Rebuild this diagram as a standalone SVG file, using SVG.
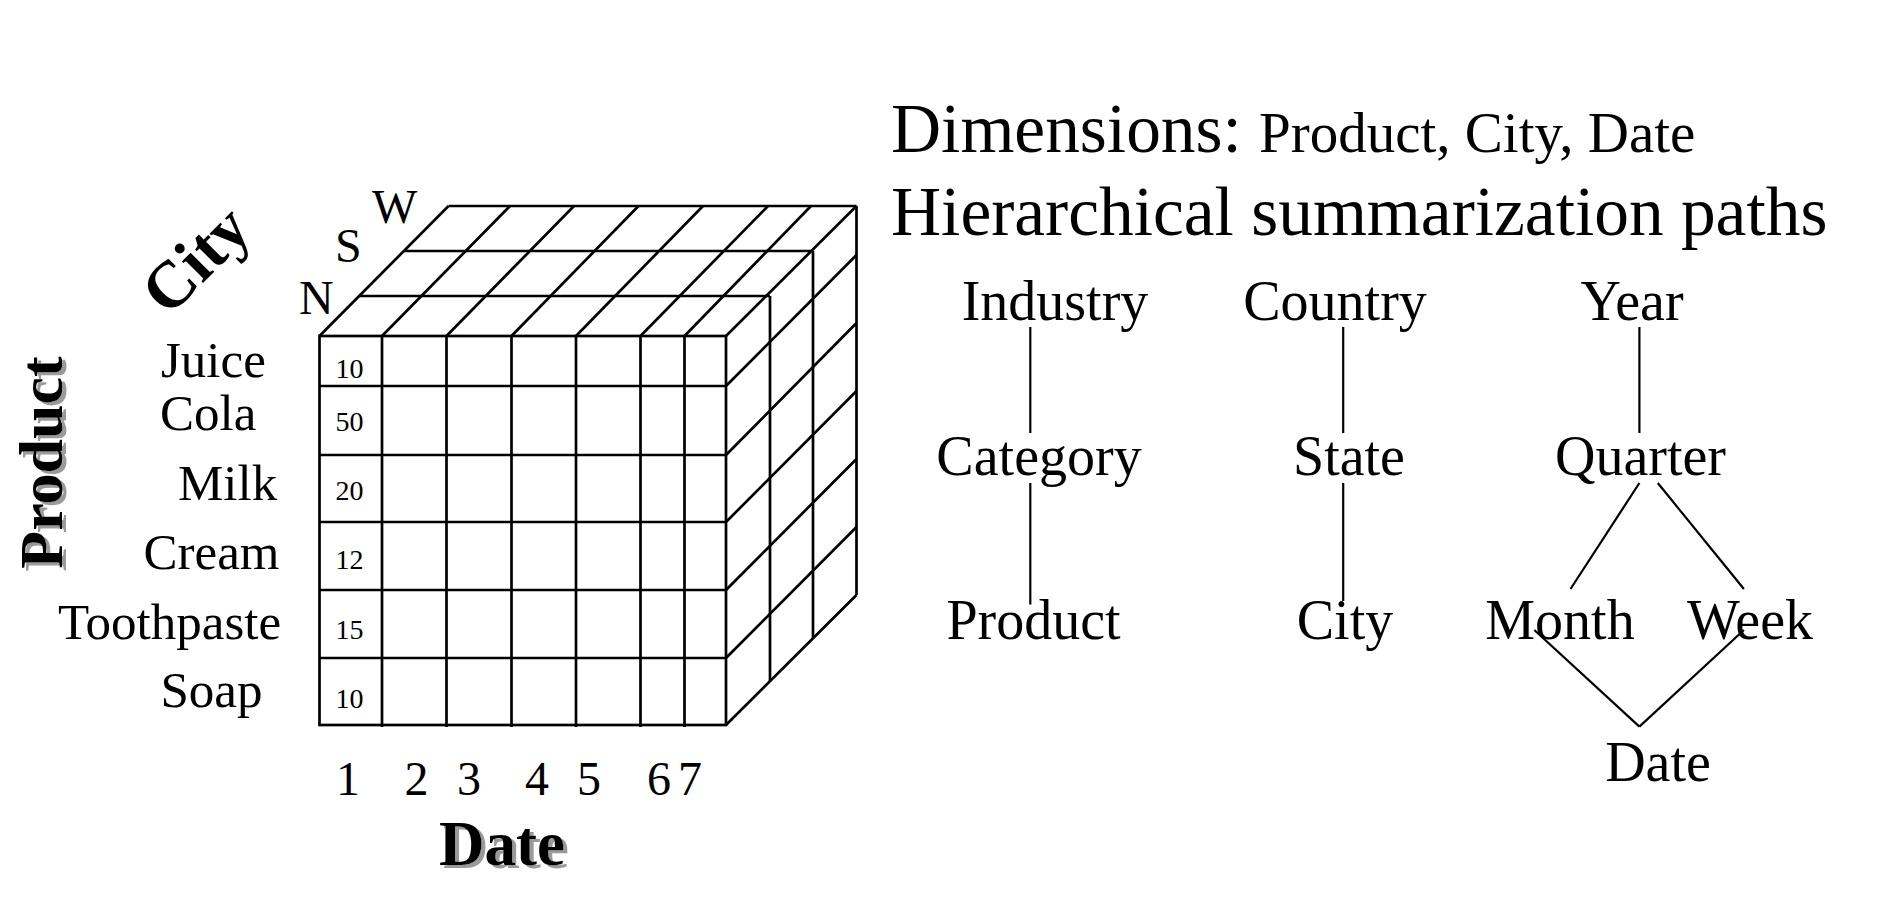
<svg xmlns="http://www.w3.org/2000/svg" width="1878" height="900" viewBox="0 0 1878 900">
<defs>
<filter id="sh" x="-20%" y="-20%" width="140%" height="140%">
<feDropShadow dx="4" dy="3" stdDeviation="0.3" flood-color="#9a9a9a" flood-opacity="1"/>
</filter>
<style>
text{font-family:"Liberation Serif","Times New Roman",serif;fill:#000}
.lbl{font-size:51px}
.num{font-size:28px}
.day{font-size:48px;text-anchor:middle}
.dir{font-size:48px}
.axis{font-size:62px;font-weight:bold}
.head{font-size:69.4px}
.sub{font-size:57px}
.tn{font-size:56px;text-anchor:middle}
.cube line,.cube rect{stroke:#000;stroke-width:2.7;fill:none}
.conn line{stroke:#000;stroke-width:2.2}
</style>
</defs>
<rect width="1878" height="900" fill="#fff"/>

<!-- cube -->
<g id="cube" class="cube">
<!-- front face -->
<rect x="319.5" y="336" width="406.5" height="389"/>
<line x1="382" y1="336" x2="382" y2="727"/>
<line x1="446.5" y1="336" x2="446.5" y2="727"/>
<line x1="511.5" y1="336" x2="511.5" y2="727"/>
<line x1="576" y1="336" x2="576" y2="727"/>
<line x1="640.5" y1="336" x2="640.5" y2="727"/>
<line x1="684.5" y1="336" x2="684.5" y2="727"/>
<line x1="319.5" y1="386" x2="726" y2="386"/>
<line x1="319.5" y1="455" x2="726" y2="455"/>
<line x1="319.5" y1="522" x2="726" y2="522"/>
<line x1="319.5" y1="590" x2="726" y2="590"/>
<line x1="319.5" y1="658" x2="726" y2="658"/>
<!-- top face -->
<line x1="358.5" y1="296" x2="770" y2="296"/>
<line x1="404" y1="251" x2="813" y2="251"/>
<line x1="448.5" y1="206" x2="856.5" y2="206"/>
<line x1="319.5" y1="336" x2="448.5" y2="206"/>
<line x1="382" y1="336" x2="510" y2="206"/>
<line x1="446.5" y1="336" x2="574" y2="206"/>
<line x1="511.5" y1="336" x2="638.5" y2="206"/>
<line x1="576" y1="336" x2="703" y2="206"/>
<line x1="640.5" y1="336" x2="768" y2="206"/>
<line x1="684.5" y1="336" x2="811" y2="206"/>
<line x1="726" y1="336" x2="856.5" y2="206"/>
<!-- right face -->
<line x1="770" y1="296" x2="770" y2="681"/>
<line x1="813" y1="251" x2="813" y2="638"/>
<line x1="856.5" y1="206" x2="856.5" y2="595"/>
<line x1="726" y1="386" x2="856.5" y2="255"/>
<line x1="726" y1="455" x2="856.5" y2="323"/>
<line x1="726" y1="522" x2="856.5" y2="391"/>
<line x1="726" y1="590" x2="856.5" y2="459"/>
<line x1="726" y1="658" x2="856.5" y2="527"/>
<line x1="726" y1="725" x2="856.5" y2="595"/>
</g>

<!-- cell values -->
<g id="cells">
<text class="num" x="335.5" y="378">10</text>
<text class="num" x="335.5" y="431">50</text>
<text class="num" x="335.5" y="500">20</text>
<text class="num" x="335.5" y="569">12</text>
<text class="num" x="335.5" y="639">15</text>
<text class="num" x="335.5" y="708">10</text>
</g>

<!-- product labels -->
<g id="product-labels">
<text class="lbl" x="161" y="377">Juice</text>
<text class="lbl" x="160" y="430">Cola</text>
<text class="lbl" x="178" y="500">Milk</text>
<text class="lbl" x="143.5" y="569">Cream</text>
<text class="lbl" x="58" y="639">Toothpaste</text>
<text class="lbl" x="160.5" y="707">Soap</text>
</g>

<!-- date labels -->
<g id="date-labels">
<text class="day" x="348" y="795">1</text>
<text class="day" x="416.5" y="795">2</text>
<text class="day" x="469" y="795">3</text>
<text class="day" x="537" y="795">4</text>
<text class="day" x="589" y="795">5</text>
<text class="day" x="659" y="795">6</text>
<text class="day" x="690" y="795">7</text>
</g>

<!-- city labels -->
<g id="city-labels">
<text class="dir" x="299" y="314">N</text>
<text class="dir" x="335" y="262">S</text>
<text class="dir" x="372" y="223">W</text>
</g>

<!-- axis titles -->
<g id="axis-product" filter="url(#sh)">
<text class="axis" transform="translate(61.7,462.5) rotate(-90)" text-anchor="middle">Product</text>
</g>
<g id="axis-city">
<text class="axis" style="font-size:66px" transform="translate(211,275) rotate(-45)" text-anchor="middle">City</text>
</g>
<g id="axis-date" filter="url(#sh)">
<text class="axis" style="font-size:63px" x="439" y="865">Date</text>
</g>

<!-- headings -->
<g id="heading">
<text class="head" x="891" y="152">Dimensions:</text>
<text class="sub" x="1259" y="152">Product, City, Date</text>
<text class="head" x="891" y="235">Hierarchical summarization paths</text>
</g>

<!-- connectors -->
<g id="connectors" class="conn">
<line x1="1030.3" y1="327" x2="1030.3" y2="433"/>
<line x1="1030.3" y1="483" x2="1030.3" y2="604.5"/>
<line x1="1343.2" y1="327" x2="1343.2" y2="433"/>
<line x1="1343.2" y1="483" x2="1343.2" y2="601"/>
<line x1="1639.4" y1="327" x2="1639.4" y2="433"/>
<line x1="1639.4" y1="483" x2="1570.5" y2="589"/>
<line x1="1657.8" y1="483" x2="1743.9" y2="589"/>
<line x1="1534.3" y1="630" x2="1639.4" y2="726.6"/>
<line x1="1743.9" y1="630" x2="1639.4" y2="726.6"/>
</g>

<!-- hierarchy nodes -->
<g id="node-industry"><text class="tn" x="1055" y="320">Industry</text></g>
<g id="node-category"><text class="tn" x="1039" y="475">Category</text></g>
<g id="node-product"><text class="tn" x="1033.5" y="639">Product</text></g>
<g id="node-country"><text class="tn" x="1335" y="320">Country</text></g>
<g id="node-state"><text class="tn" x="1349" y="475">State</text></g>
<g id="node-city"><text class="tn" x="1345" y="639">City</text></g>
<g id="node-year"><text class="tn" x="1632" y="320">Year</text></g>
<g id="node-quarter"><text class="tn" x="1640.5" y="475">Quarter</text></g>
<g id="node-month"><text class="tn" x="1560" y="639">Month</text></g>
<g id="node-week"><text class="tn" x="1750" y="639">Week</text></g>
<g id="node-date"><text class="tn" x="1658" y="781">Date</text></g>
</svg>
